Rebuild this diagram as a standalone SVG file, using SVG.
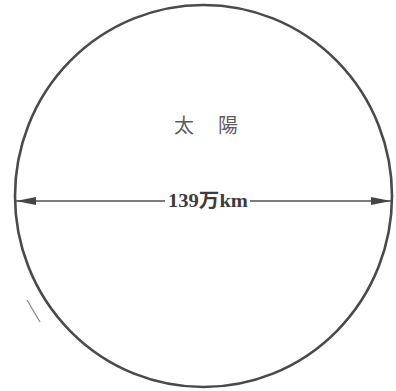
<svg xmlns="http://www.w3.org/2000/svg" width="396" height="391" viewBox="0 0 396 391">
<style>
.outline{fill:none;stroke:#4a4a4a;stroke-width:2.6}
.dim{fill:none;stroke:#505050;stroke-width:1.6}
.lbl{font-family:"Liberation Serif","Noto Sans CJK JP",serif;fill:#3c3c3c}
</style>
<defs>
<marker id="ah" viewBox="0 0 20 10" refX="20" refY="5" markerWidth="20" markerHeight="10" markerUnits="userSpaceOnUse" orient="auto-start-reverse">
<path d="M0,1 L20,5 L0,9 Z" fill="#454545"/>
</marker>
</defs>
<rect width="396" height="391" fill="#ffffff"/>
<g id="sun">
<ellipse class="outline" cx="203.5" cy="196" rx="188.5" ry="191"/>
<text class="lbl" x="184" y="133" font-size="20" text-anchor="middle" fill-opacity="0.85">太</text>
<text class="lbl" x="228" y="133" font-size="20" text-anchor="middle" fill-opacity="0.85">陽</text>
</g>
<g id="connectors">
<line class="dim" x1="165" y1="201" x2="16" y2="201" marker-end="url(#ah)"/>
<line class="dim" x1="250" y1="201" x2="391" y2="201" marker-end="url(#ah)"/>
<line x1="27" y1="300" x2="40" y2="322" stroke="#8a8a8a" stroke-width="1.3"/>
</g>
<g id="diameter-label">
<text class="lbl" x="168" y="207" font-size="19" textLength="80" lengthAdjust="spacingAndGlyphs" font-weight="bold">139万km</text>
</g>
</svg>
